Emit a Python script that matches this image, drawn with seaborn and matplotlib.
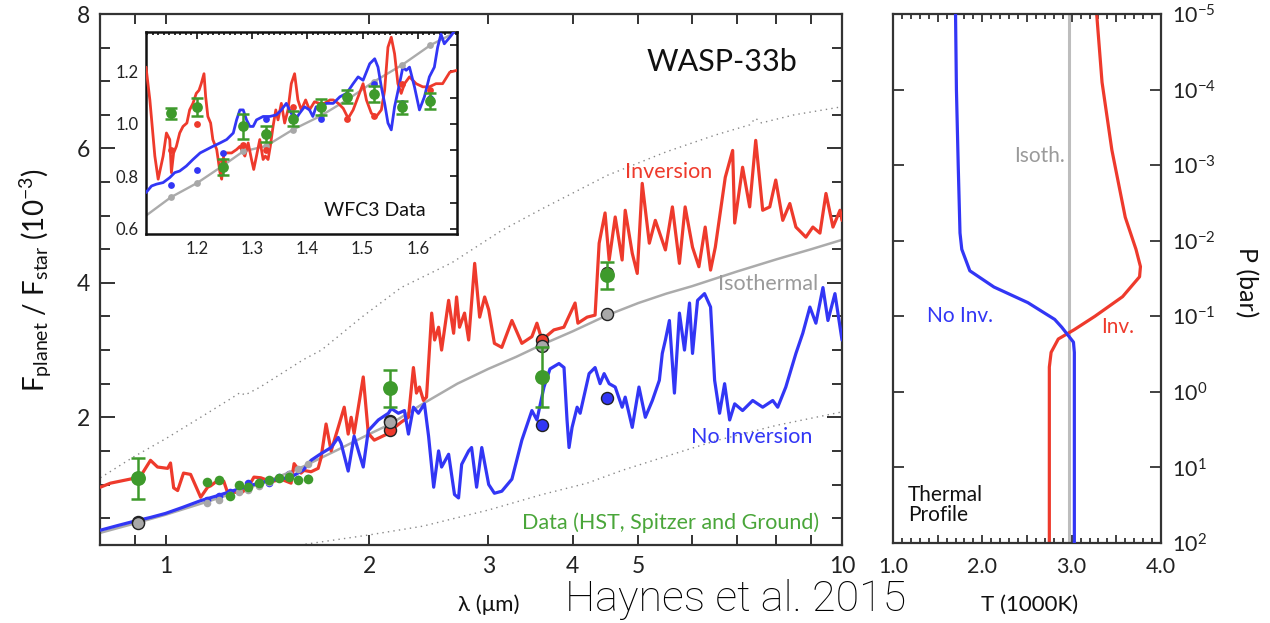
import matplotlib
matplotlib.use("Agg")
import matplotlib.pyplot as plt
import seaborn as sns
from matplotlib.ticker import FixedLocator, NullFormatter, FixedFormatter, NullLocator, LogFormatterMathtext

sns.set_theme(style="white")
FONT = "Lato"
plt.rcParams['font.family'] = [FONT, 'DejaVu Sans']
plt.rcParams['mathtext.fontset'] = 'custom'
plt.rcParams['mathtext.rm'] = FONT
plt.rcParams['mathtext.it'] = FONT + ':italic'
plt.rcParams['mathtext.bf'] = FONT + ':bold'

# ---------------- data: emission spectrum (wavelength um, Fp/Fs 1e-3) ----------------
inversion = [(0.801,0.96),(0.829,1.02),(0.857,1.05),(0.896,1.09),(0.918,1.12),(0.950,1.36),(0.973,1.26),
             (1.007,1.24),(1.017,1.32),(1.028,0.95),(1.042,0.91),(1.063,1.17),(1.089,1.15),(1.127,0.81),
             (1.154,0.96),(1.166,0.98),(1.194,1.06),(1.219,1.05),(1.236,0.87),(1.261,0.89),(1.292,0.87),
             (1.323,0.95),(1.351,1.11),(1.383,1.10),(1.417,1.06),(1.446,1.05),(1.481,1.08),(1.533,1.02),
             (1.549,1.31),(1.586,1.17),(1.602,1.21),(1.641,1.19),(1.681,1.24),(1.698,1.40),(1.727,1.90),
             (1.757,1.50),(1.800,1.85),(1.837,2.15),(1.862,1.75),(1.881,2.00),(1.900,1.76),(1.960,2.60),
             (1.994,1.76),(2.035,1.66),(2.135,1.76),(2.157,1.81),(2.232,1.93),(2.286,2.00),(2.325,2.74),
             (2.349,2.36),(2.373,2.45),(2.406,2.25),(2.431,2.30),(2.474,3.55),(2.499,3.15),(2.533,3.34),
             (2.559,3.00),(2.621,3.74),(2.666,3.25),(2.693,3.79),(2.720,3.34),(2.767,3.55),(2.806,3.15),
             (2.864,4.29),(2.913,3.49),(2.963,3.79),(3.004,3.60),(3.063,3.10),(3.141,3.04),(3.251,3.44),
             (3.363,3.10),(3.480,3.20),(3.540,3.40),(3.601,3.15),(3.750,3.30),(3.880,3.34),(4.031,3.70),
             (4.070,3.40),(4.200,3.49),(4.315,3.52),(4.375,4.59),(4.464,5.04),(4.527,4.34),(4.621,4.98),
             (4.731,4.34),(4.781,5.08),(4.897,4.44),(4.981,4.14),(5.066,5.48),(5.190,4.59),(5.297,4.93),
             (5.482,4.49),(5.614,5.13),(5.750,4.29),(5.863,5.13),(6.012,4.53),(6.144,4.24),(6.277,4.83),
             (6.393,4.19),(6.497,4.53),(6.721,5.57),(6.892,5.97),(6.940,4.89),(7.129,5.72),(7.303,5.13),
             (7.455,6.12),(7.634,5.08),(7.820,5.13),(7.981,5.53),(8.174,4.93),(8.373,5.18),(8.548,4.83),
             (8.843,4.68),(9.056,4.83),(9.277,4.74),(9.469,5.33),(9.697,4.83),(9.932,5.08),(10.0,4.93)]

no_inversion = [(0.801,0.32),(0.850,0.39),(0.896,0.45),(0.950,0.51),(1.000,0.57),(1.060,0.66),(1.127,0.76),
                (1.190,0.83),(1.261,0.91),(1.320,0.97),(1.383,1.03),(1.450,1.07),(1.533,1.11),(1.600,1.22),
                (1.641,1.36),(1.698,1.46),(1.757,1.55),(1.800,1.70),(1.818,1.61),(1.862,1.20),(1.900,1.72),
                (1.933,1.46),(1.960,1.26),(1.994,1.80),(2.063,1.96),(2.135,2.06),(2.157,2.13),(2.209,2.06),
                (2.255,2.10),(2.286,1.75),(2.325,2.15),(2.365,2.06),(2.414,2.20),(2.448,1.72),(2.491,0.96),
                (2.533,1.50),(2.559,1.26),(2.621,1.45),(2.674,0.85),(2.711,0.80),(2.740,1.30),(2.806,1.50),
                (2.834,1.55),(2.883,0.96),(2.934,1.55),(3.004,1.00),(3.063,0.87),(3.141,0.90),(3.251,1.08),
                (3.363,1.66),(3.480,2.10),(3.540,1.96),(3.626,2.45),(3.701,2.72),(3.816,2.80),(3.882,2.74),
                (3.922,1.96),(3.949,1.55),(3.990,1.85),(4.059,2.15),(4.101,2.06),(4.228,2.65),(4.315,2.74),
                (4.389,2.50),(4.450,2.65),(4.527,2.50),(4.621,2.45),(4.731,2.15),(4.781,2.30),(4.897,1.85),
                (5.010,2.45),(5.120,2.00),(5.244,2.25),(5.370,2.55),(5.424,2.95),(5.482,3.15),(5.557,3.44),
                (5.653,2.36),(5.750,3.55),(5.850,3.00),(5.951,3.70),(6.012,2.95),(6.116,3.74),(6.263,3.84),
                (6.393,3.64),(6.482,2.55),(6.592,2.06),(6.706,2.50),(6.822,1.96),(6.940,2.20),(7.129,2.10),
                (7.379,2.25),(7.634,2.15),(7.900,2.25),(8.035,2.15),(8.259,2.45),(8.548,2.95),(8.750,3.25),
                (8.965,3.64),(9.150,3.40),(9.372,3.93),(9.533,3.44),(9.763,3.84),(10.0,3.15)]

isothermal = [(0.80,0.28),(0.90,0.42),(1.00,0.55),(1.20,0.80),(1.40,1.03),(1.60,1.27),(1.80,1.52),
              (2.00,1.75),(2.15,1.90),(2.40,2.20),(2.70,2.50),(3.00,2.72),(3.30,2.90),(3.60,3.08),
              (4.00,3.28),(4.50,3.52),(5.00,3.70),(5.50,3.84),(6.00,3.95),(7.00,4.17),(8.00,4.35),
              (9.00,4.50),(10.0,4.64)]

bb_upper = [(0.801,1.10),(0.90,1.42),(1.00,1.68),(1.127,2.00),(1.25,2.28),(1.29,2.37),(1.31,2.33),
            (1.38,2.45),(1.60,2.86),(1.70,3.00),(1.95,3.49),(2.23,3.93),(2.65,4.30),(3.14,4.78),
            (3.60,5.10),(4.50,5.60),(5.50,5.95),(6.50,6.20),(7.30,6.35),(7.45,6.45),(7.60,6.38),
            (8.50,6.50),(10.0,6.62)]
bb_lower = [(1.58,0.10),(2.00,0.25),(2.40,0.38),(3.00,0.62),(3.60,0.85),(4.20,1.02),(4.73,1.21),
            (5.42,1.40),(6.50,1.65),(8.00,1.88),(10.0,2.08)]

# photometric eclipse depths (HST z', Ks, Spitzer 3.6, 4.5)
phot_wl = [0.91, 2.15, 3.6, 4.5]
phot_F = [1.09, 2.43, 2.60, 4.11]
phot_err = [0.31, 0.28, 0.45, 0.20]
band_iso = [0.42, 1.93, 3.06, 3.53]
band_inv = [1.10, 1.81, 3.15, 4.15]
band_noinv = [0.44, 1.95, 1.88, 2.28]

# WFC3 spectrum
wfc3_wl = [1.153, 1.201, 1.247, 1.284, 1.325, 1.374, 1.424, 1.471, 1.520, 1.572, 1.623]
wfc3_F = [1.040, 1.064, 0.834, 0.990, 0.962, 1.020, 1.065, 1.103, 1.113, 1.063, 1.087]
wfc3_err = [0.020, 0.036, 0.030, 0.046, 0.030, 0.030, 0.030, 0.025, 0.030, 0.025, 0.030]
wfc3_iso = [0.720, 0.775, 0.840, 0.895, 0.915, 0.978, 1.030, 1.090, 1.160, 1.225, 1.300]
wfc3_noinv = [0.766, 0.823, 0.888, 0.990, 1.020, 1.030, 1.020, 1.110, 1.150, 1.080, 1.100]
wfc3_inv = [0.900, 1.000, 0.860, 0.920, 0.900, 1.064, 1.070, 1.020, 1.030, 1.150, 1.130]

inset_inv = [(1.108,1.216),(1.115,1.091),(1.124,0.877),(1.130,0.789),(1.139,0.877),(1.145,0.965),(1.151,0.940),
             (1.154,0.814),(1.158,0.889),(1.163,0.914),(1.169,0.965),(1.175,0.990),(1.182,1.003),(1.187,1.053),
             (1.193,1.078),(1.199,1.116),(1.204,1.128),(1.208,1.153),(1.213,1.191),(1.216,1.103),(1.220,1.028),
             (1.225,1.003),(1.229,0.940),(1.236,0.902),(1.242,0.814),(1.245,0.789),(1.249,0.889),(1.254,0.889),
             (1.263,0.889),(1.272,0.902),(1.278,0.914),(1.287,0.877),(1.293,0.927),(1.299,0.864),(1.303,0.826),
             (1.308,0.877),(1.314,0.940),(1.320,0.864),(1.324,0.877),(1.329,0.864),(1.333,0.914),(1.338,0.990),
             (1.343,1.053),(1.347,1.015),(1.353,1.078),(1.359,1.003),(1.365,1.053),(1.371,1.153),(1.377,1.191),
             (1.383,1.091),(1.389,1.053),(1.397,1.091),(1.404,1.053),(1.413,1.084),(1.422,1.078),(1.431,1.078),
             (1.441,1.091),(1.447,1.091),(1.456,1.078),(1.465,1.059),(1.474,1.021),(1.483,1.053),(1.492,1.103),
             (1.501,1.153),(1.507,1.091),(1.516,1.040),(1.525,1.028),(1.534,1.053),(1.540,1.128),(1.546,1.292),
             (1.552,1.330),(1.558,1.267),(1.564,1.153),(1.570,1.116),(1.576,1.153),(1.585,1.179),(1.597,1.153),
             (1.609,1.141),(1.621,1.141),(1.633,1.153),(1.645,1.153),(1.658,1.197),(1.671,1.204)]

inset_noinv = [(1.108,0.738),(1.118,0.763),(1.127,0.770),(1.139,0.776),(1.151,0.795),(1.160,0.814),(1.169,0.820),
               (1.181,0.839),(1.193,0.864),(1.206,0.889),(1.218,0.902),(1.229,0.914),(1.242,0.927),(1.254,0.940),
               (1.266,0.965),(1.272,1.015),(1.278,1.053),(1.284,1.053),(1.290,1.015),(1.296,0.990),(1.302,0.990),
               (1.308,1.015),(1.320,1.028),(1.332,1.028),(1.344,1.034),(1.353,1.053),(1.362,1.078),(1.371,1.040),
               (1.380,1.021),(1.386,1.040),(1.395,1.065),(1.404,1.053),(1.410,1.028),(1.416,1.065),(1.422,1.053),
               (1.434,1.078),(1.447,1.078),(1.459,1.103),(1.471,1.116),(1.483,1.153),(1.492,1.179),(1.501,1.166),
               (1.513,1.229),(1.522,1.248),(1.528,1.216),(1.534,1.141),(1.540,1.078),(1.546,1.003),(1.552,0.977),
               (1.558,1.065),(1.567,1.153),(1.573,1.216),(1.579,1.204),(1.585,1.216),(1.594,1.141),(1.603,1.053),
               (1.612,1.103),(1.621,1.179),(1.630,1.216),(1.636,1.292),(1.642,1.342),(1.648,1.305),(1.658,1.330),
               (1.667,1.355)]

inset_iso = [(1.108,0.650),(1.153,0.720),(1.201,0.775),(1.247,0.840),(1.284,0.895),(1.325,0.915),(1.374,0.978),
             (1.424,1.030),(1.471,1.090),(1.520,1.160),(1.572,1.225),(1.623,1.300),(1.660,1.340)]

# ---------------- data: thermal profiles (T in 1000 K, P in bar) ----------------
tp_inv_T = [3.28, 3.34, 3.45, 3.60, 3.72, 3.77, 3.76, 3.57, 3.26, 3.03, 2.85, 2.77, 2.75, 2.75]
tp_inv_P = [1e-5, 8e-5, 6.3e-4, 4.9e-3, 1.3e-2, 2.2e-2, 3.0e-2, 5.5e-2, 1.0e-1, 1.5e-1, 2.0e-1, 3.0e-1, 4.7e-1, 1e2]
tp_noinv_T = [1.70, 1.71, 1.73, 1.75, 1.77, 1.86, 2.13, 2.51, 2.81, 2.89, 3.02, 3.03, 3.03]
tp_noinv_P = [1e-5, 1e-4, 1e-3, 7.9e-3, 1.3e-2, 2.5e-2, 4.1e-2, 6.6e-2, 1.1e-1, 1.4e-1, 2.2e-1, 3.0e-1, 1e2]
tp_iso_T = [2.97, 2.97]
tp_iso_P = [1e-5, 1e2]

main_xticks = [1, 2, 3, 4, 5, 10]
main_xticklabels = ["1", "2", "3", "4", "5", "10"]
main_xminor = [0.9, 6, 7, 8, 9]
main_yticks = [2, 4, 6, 8]

RED = "#EE3A2C"
BLUE = "#3236F5"
GRAY = "#ABABAB"
GREEN = "#3E9A2C"
SPINE = "#333333"

def unzip(pairs):
    return [p[0] for p in pairs], [p[1] for p in pairs]

W, H = 1270, 623
fig = plt.figure(figsize=(W / 100, H / 100), dpi=100)

def rect(x0, y0, x1, y1):
    return [x0 / W, 1 - y1 / H, (x1 - x0) / W, (y1 - y0) / H]

ax = fig.add_axes(rect(100, 14, 842, 545))
axi = fig.add_axes(rect(146, 32, 457, 234))
axr = fig.add_axes(rect(893, 14, 1161, 543))

for a in (ax, axi, axr):
    a.set_facecolor("white")
    for s in a.spines.values():
        s.set_color(SPINE)
        s.set_linewidth(1.6)

# ---------------- main panel ----------------
ax.set_xscale("log")
x, y = unzip(bb_upper)
sns.lineplot(x=x, y=y, ax=ax, color="#888888", lw=1.0, linestyle=(0, (1, 3)), sort=False, estimator=None, zorder=1)
x, y = unzip(bb_lower)
sns.lineplot(x=x, y=y, ax=ax, color="#888888", lw=1.0, linestyle=(0, (1, 3)), sort=False, estimator=None, zorder=1)
x, y = unzip(isothermal)
sns.lineplot(x=x, y=y, ax=ax, color=GRAY, lw=1.8, sort=False, estimator=None, zorder=2)
x, y = unzip(inversion)
sns.lineplot(x=x, y=y, ax=ax, color=RED, lw=2.3, sort=False, estimator=None, zorder=3)
x, y = unzip(no_inversion)
sns.lineplot(x=x, y=y, ax=ax, color=BLUE, lw=2.3, sort=False, estimator=None, zorder=4)

sns.scatterplot(x=wfc3_wl, y=wfc3_noinv, ax=ax, color=BLUE, s=30, linewidth=0, zorder=5)
sns.scatterplot(x=wfc3_wl, y=wfc3_iso, ax=ax, color="#A8A8A8", s=30, linewidth=0, zorder=5)
sns.scatterplot(x=phot_wl, y=band_noinv, ax=ax, color=BLUE, s=75, edgecolor="#222222", linewidth=1.0, zorder=6)
sns.scatterplot(x=phot_wl, y=band_inv, ax=ax, color=RED, s=75, edgecolor="#222222", linewidth=1.0, zorder=6)
sns.scatterplot(x=phot_wl, y=band_iso, ax=ax, color="#A8A8A8", s=75, edgecolor="#222222", linewidth=1.0, zorder=7)

ax.errorbar(wfc3_wl, wfc3_F, yerr=wfc3_err, fmt="none", ecolor=GREEN, elinewidth=1.5, capsize=2, zorder=8)
sns.scatterplot(x=wfc3_wl, y=wfc3_F, ax=ax, color=GREEN, s=48, linewidth=0, marker="o", zorder=9)
ax.errorbar(phot_wl, phot_F, yerr=phot_err, fmt="none", ecolor=GREEN, elinewidth=1.8, capsize=5, capthick=1.8, zorder=8)
sns.scatterplot(x=phot_wl, y=phot_F, ax=ax, color=GREEN, s=115, linewidth=0, zorder=9)

ax.set_xlim(0.8, 10)
ax.set_ylim(0.1, 8)
ax.xaxis.set_major_locator(FixedLocator(main_xticks))
ax.xaxis.set_major_formatter(FixedFormatter(main_xticklabels))
ax.xaxis.set_minor_locator(FixedLocator(main_xminor))
ax.xaxis.set_minor_formatter(NullFormatter())
ax.yaxis.set_major_locator(FixedLocator(main_yticks))
ax.yaxis.set_minor_locator(FixedLocator([v / 2 for v in range(1, 16) if v % 4 != 0]))
ax.tick_params(which="both", direction="in", top=True, right=True, bottom=True, left=True,
               color=SPINE, width=1.4, labelsize=16.5, labelcolor="#222222")
ax.tick_params(axis="y", which="major", length=11, pad=7)
ax.tick_params(axis="y", which="minor", length=7)
ax.tick_params(axis="x", which="both", length=7, pad=8)
ax.set_xlabel("")
ax.set_ylabel("")

# ---------------- inset ----------------
x, y = unzip(inset_iso)
sns.lineplot(x=x, y=y, ax=axi, color=GRAY, lw=1.7, sort=False, estimator=None, zorder=2)
x, y = unzip(inset_inv)
sns.lineplot(x=x, y=y, ax=axi, color=RED, lw=2.0, sort=False, estimator=None, zorder=3)
x, y = unzip(inset_noinv)
sns.lineplot(x=x, y=y, ax=axi, color=BLUE, lw=2.0, sort=False, estimator=None, zorder=4)
sns.scatterplot(x=wfc3_wl, y=wfc3_iso, ax=axi, color="#A8A8A8", s=24, linewidth=0, zorder=5)
sns.scatterplot(x=wfc3_wl, y=wfc3_noinv, ax=axi, color=BLUE, s=24, linewidth=0, zorder=5)
sns.scatterplot(x=wfc3_wl, y=wfc3_inv, ax=axi, color=RED, s=24, linewidth=0, zorder=5)
axi.errorbar(wfc3_wl, wfc3_F, yerr=wfc3_err, fmt="none", ecolor=GREEN, elinewidth=1.8, capsize=4, capthick=1.8, zorder=8)
sns.scatterplot(x=wfc3_wl, y=wfc3_F, ax=axi, color=GREEN, s=60, linewidth=0, zorder=9)
axi.set_xlim(1.108, 1.671)
axi.set_ylim(0.58, 1.35)
axi.xaxis.set_major_locator(FixedLocator([1.2, 1.3, 1.4, 1.5, 1.6]))
axi.xaxis.set_major_formatter(FixedFormatter(["1.2", "1.3", "1.4", "1.5", "1.6"]))
axi.xaxis.set_minor_locator(FixedLocator([1.11 + 0.01 * i for i in range(57)]))
axi.xaxis.set_minor_formatter(NullFormatter())
axi.yaxis.set_major_locator(FixedLocator([0.6, 0.8, 1.0, 1.2]))
axi.yaxis.set_major_formatter(FixedFormatter(["0.6", "0.8", "1.0", "1.2"]))
axi.yaxis.set_minor_locator(FixedLocator([0.7, 0.9, 1.1, 1.3]))
axi.tick_params(which="both", direction="in", top=True, right=True, color="#111111", width=1.2,
                labelsize=12, labelcolor="#222222")
axi.tick_params(which="major", length=5, pad=5)
axi.tick_params(axis="y", which="minor", length=5)
axi.tick_params(axis="x", which="minor", length=2.5)
for s in axi.spines.values():
    s.set_color("#111111")
    s.set_linewidth(1.8)
axi.set_xlabel("")
axi.set_ylabel("")

# ---------------- thermal profile ----------------
axr.set_yscale("log")
sns.lineplot(x=tp_iso_T, y=tp_iso_P, ax=axr, color="#BDBDBD", lw=2.2, sort=False, estimator=None, zorder=1)
sns.lineplot(x=tp_noinv_T, y=tp_noinv_P, ax=axr, color=BLUE, lw=2.3, sort=False, estimator=None, zorder=3)
sns.lineplot(x=tp_inv_T, y=tp_inv_P, ax=axr, color=RED, lw=2.3, sort=False, estimator=None, zorder=2)
axr.set_xlim(1.0, 4.0)
axr.set_ylim(1e2, 1e-5)
axr.yaxis.set_major_locator(FixedLocator([1e-5, 1e-4, 1e-3, 1e-2, 1e-1, 1e0, 1e1, 1e2]))
axr.yaxis.set_major_formatter(LogFormatterMathtext())
axr.yaxis.set_minor_locator(NullLocator())
axr.xaxis.set_major_locator(FixedLocator([1.0, 1.5, 2.0, 2.5, 3.0, 3.5, 4.0]))
axr.xaxis.set_major_formatter(FixedFormatter(["1.0", "", "2.0", "", "3.0", "", "4.0"]))
axr.xaxis.set_minor_locator(FixedLocator([1.0 + 0.1 * i for i in range(31)]))
axr.xaxis.set_minor_formatter(NullFormatter())
axr.tick_params(which="both", direction="in", top=True, bottom=True, left=True, right=True,
                labelleft=False, labelright=True, color=SPINE, width=1.3, labelsize=15.5, labelcolor="#222222")
axr.tick_params(axis="y", which="major", length=8, pad=8)
axr.tick_params(axis="x", which="major", length=6, pad=10)
axr.tick_params(axis="x", which="minor", length=3.5)
axr.set_xlabel("")
axr.set_ylabel("")

# ---------------- text ----------------
def ftext(px, py, s, **kw):
    kw.setdefault("ha", "center")
    kw.setdefault("va", "center")
    fig.text(px / W, 1 - py / H, s, **kw)

ftext(722, 62, "WASP-33b", fontsize=22, color="#111111")
ftext(669, 172, "Inversion", fontsize=15.5, color=RED)
ftext(768, 284, "Isothermal", fontsize=15.5, color="#9A9A9A")
ftext(752, 437, "No Inversion", fontsize=15.5, color=BLUE)
ftext(671, 523, "Data (HST, Spitzer and Ground)", fontsize=15.5, color="#4AA63A")
ftext(375, 211, "WFC3 Data", fontsize=14, color="#111111")
ftext(1039, 156, "Isoth.", fontsize=15, color="#9A9A9A")
ftext(960, 316, "No Inv.", fontsize=15, color=BLUE)
ftext(1118, 327, "Inv.", fontsize=15, color=RED)
ftext(908, 505, "Thermal\nProfile", fontsize=15, color="#111111", ha="left", linespacing=1.0)
ftext(36, 280, r"F$_{\rm planet}$ / F$_{\rm star}$ (10$^{-3}$)", fontsize=20, rotation=90, color="#111111")
ftext(1246, 282, "P (bar)", fontsize=18, rotation=270, color="#111111")
ftext(489, 605, "λ (μm)", fontsize=16, color="#111111")
ftext(1030, 605, "T (1000K)", fontsize=16, color="#111111")
fig.text(565 / W, 1 - 599 / H, "Haynes et al. 2015", fontsize=31, color="#000000",
         ha="left", va="center", family=["Roboto", "DejaVu Sans"], fontweight="light")

fig.savefig("out.png", dpi=100, facecolor="white")
